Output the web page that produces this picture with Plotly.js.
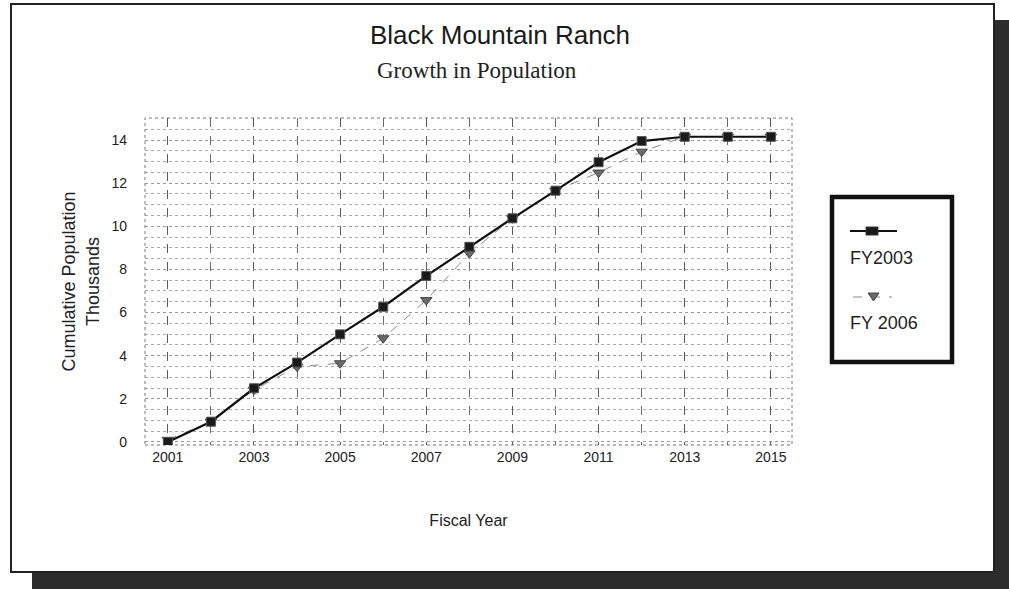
<!DOCTYPE html>
<html>
<head>
<meta charset="utf-8">
<script src="https://cdn.plot.ly/plotly-3.0.1.min.js"></script>
<style>
  html, body { margin: 0; padding: 0; background: #ffffff; }
  #wrap { position: relative; width: 1009px; height: 589px; overflow: hidden; background: #ffffff; }
  #shadowR { position: absolute; left: 993px; top: 20px; width: 16px; height: 569px; background: #2c2c2c; }
  #shadowB { position: absolute; left: 32px; top: 571px; width: 977px; height: 18px; background: #2c2c2c; }
  #card { position: absolute; left: 10px; top: 3px; width: 981px; height: 566px; border: 2px solid #222; background: #ffffff; }
  #chart { position: absolute; left: 0; top: 0; width: 1009px; height: 589px; }
</style>
</head>
<body>
<div id="wrap">
  <div id="shadowR"></div>
  <div id="shadowB"></div>
  <div id="card"></div>
  <div id="chart"></div>
</div>
<script>
// ---- data ----
var years = [2001, 2002, 2003, 2004, 2005, 2006, 2007, 2008, 2009, 2010, 2011, 2012, 2013, 2014, 2015];
var fy2003 = [0.0, 0.94, 2.49, 3.68, 4.99, 6.27, 7.70, 9.05, 10.37, 11.65, 12.97, 13.95, 14.15, 14.15, 14.15];
var fy2006 = [0.1, 0.94, 2.42, 3.49, 3.65, 4.81, 6.58, 8.75, 10.37, 11.65, 12.49, 13.46, 14.15, 14.15, 14.15];
var yTicks = [0, 2, 4, 6, 8, 10, 12, 14];
var xTicks = [2001, 2003, 2005, 2007, 2009, 2011, 2013, 2015];
var seriesNames = ["FY2003", "FY 2006"];

// ---- layout geometry (pixels) ----
var W = 1009, H = 589;
var PL = 145, PR = 792, PT = 118, PB = 445;
function px(x) { return (x - PL) / (PR - PL); }
function py(y) { return (PB - y) / (PB - PT); }

var SANS = '"Liberation Sans", Arial, sans-serif';
var SERIF = '"Liberation Serif", "Times New Roman", serif';

var traces = [
  {
    x: years, y: fy2006, name: seriesNames[1], type: 'scatter', mode: 'lines+markers',
    line: { color: '#8a8a8a', width: 1, dash: 'dash' },
    marker: { symbol: 'triangle-down', size: 10, color: '#6a6a6a', line: { color: '#444', width: 1 } },
    showlegend: false
  },
  {
    x: years, y: fy2003, name: seriesNames[0], type: 'scatter', mode: 'lines+markers',
    line: { color: '#111111', width: 2.2 },
    marker: { symbol: 'square', size: 9, color: '#1a1a1a', line: { color: '#555', width: 1 } },
    showlegend: false
  }
];

// custom legend (symbol above text, like the reference)
var LX0 = 832, LX1 = 952, LY0 = 197, LY1 = 362;
var shapes = [
  { type: 'rect', xref: 'paper', yref: 'paper', x0: 0, x1: 1, y0: 0, y1: 1,
    line: { color: '#777', width: 1, dash: 'dot' }, layer: 'below' },
  { type: 'rect', xref: 'paper', yref: 'paper', x0: px(LX0), x1: px(LX1), y0: py(LY1), y1: py(LY0),
    line: { color: '#111', width: 4.5 }, fillcolor: '#ffffff' },
  { type: 'line', xref: 'paper', yref: 'paper', x0: px(850), x1: px(897), y0: py(231), y1: py(231),
    line: { color: '#111', width: 2 } },
  { type: 'rect', xref: 'paper', yref: 'paper', x0: px(866), x1: px(878), y0: py(235), y1: py(227),
    line: { color: '#333', width: 1 }, fillcolor: '#1a1a1a' },
  { type: 'line', xref: 'paper', yref: 'paper', x0: px(853), x1: px(892), y0: py(297), y1: py(297),
    line: { color: '#8a8a8a', width: 1, dash: 'dash' } },
  { type: 'path', xref: 'paper', yref: 'paper',
    path: 'M ' + px(868) + ',' + py(293) + ' L ' + px(879) + ',' + py(293) + ' L ' + px(873.5) + ',' + py(301) + ' Z',
    line: { color: '#444', width: 1 }, fillcolor: '#6a6a6a' }
];

var annotations = [
  { xref: 'paper', yref: 'paper', x: px(477), y: py(70), text: 'Growth in Population', showarrow: false,
    xanchor: 'center', yanchor: 'middle', font: { family: SERIF, size: 23, color: '#222' } },
  { xref: 'paper', yref: 'paper', x: px(848), y: py(258), text: seriesNames[0], showarrow: false,
    xanchor: 'left', yanchor: 'middle', font: { family: SANS, size: 18, color: '#222' } },
  { xref: 'paper', yref: 'paper', x: px(848), y: py(323), text: seriesNames[1], showarrow: false,
    xanchor: 'left', yanchor: 'middle', font: { family: SANS, size: 18, color: '#222' } }
];

var layout = {
  width: W, height: H,
  paper_bgcolor: 'rgba(0,0,0,0)', plot_bgcolor: '#ffffff',
  margin: { l: PL, r: W - PR, t: PT, b: H - PB, pad: 0 },
  font: { family: SANS, color: '#222' },
  title: { text: 'Black Mountain Ranch', x: 500 / W, xref: 'container', xanchor: 'center',
           y: 1 - 35 / H, yanchor: 'middle', yref: 'container',
           font: { family: SANS, size: 26, color: '#1a1a1a' } },
  xaxis: {
    range: [2000.47, 2015.49], tickmode: 'array', tickvals: xTicks, ticktext: xTicks.map(String),
    showgrid: true, gridcolor: '#5a5a5a', griddash: 'dash', gridwidth: 1,
    minor: { dtick: 1, tick0: 2001, showgrid: true, gridcolor: '#6a6a6a', griddash: 'dash', gridwidth: 1 },
    zeroline: false, showline: false, ticks: '', ticklabelstandoff: 2,
    tickfont: { size: 14, color: '#222' },
    title: { text: 'Fiscal Year', standoff: 50, font: { size: 16, color: '#222' } }
  },
  yaxis: {
    range: [-0.14, 15.02], tickmode: 'array', tickvals: yTicks, ticktext: yTicks.map(String),
    showgrid: true, gridcolor: '#999', griddash: 'dot', gridwidth: 1,
    minor: { dtick: 0.5, tick0: 0, showgrid: true, gridcolor: '#aaa', griddash: 'dot', gridwidth: 1 },
    zeroline: false, showline: false, ticks: '', ticklabelstandoff: 17,
    tickfont: { size: 14, color: '#222' },
    title: { text: 'Cumulative Population<br>Thousands', standoff: 7, font: { size: 18, color: '#222' } }
  },
  shapes: shapes,
  annotations: annotations,
  showlegend: false
};

Plotly.newPlot('chart', traces, layout, { displayModeBar: false, staticPlot: true });
</script>
</body>
</html>
